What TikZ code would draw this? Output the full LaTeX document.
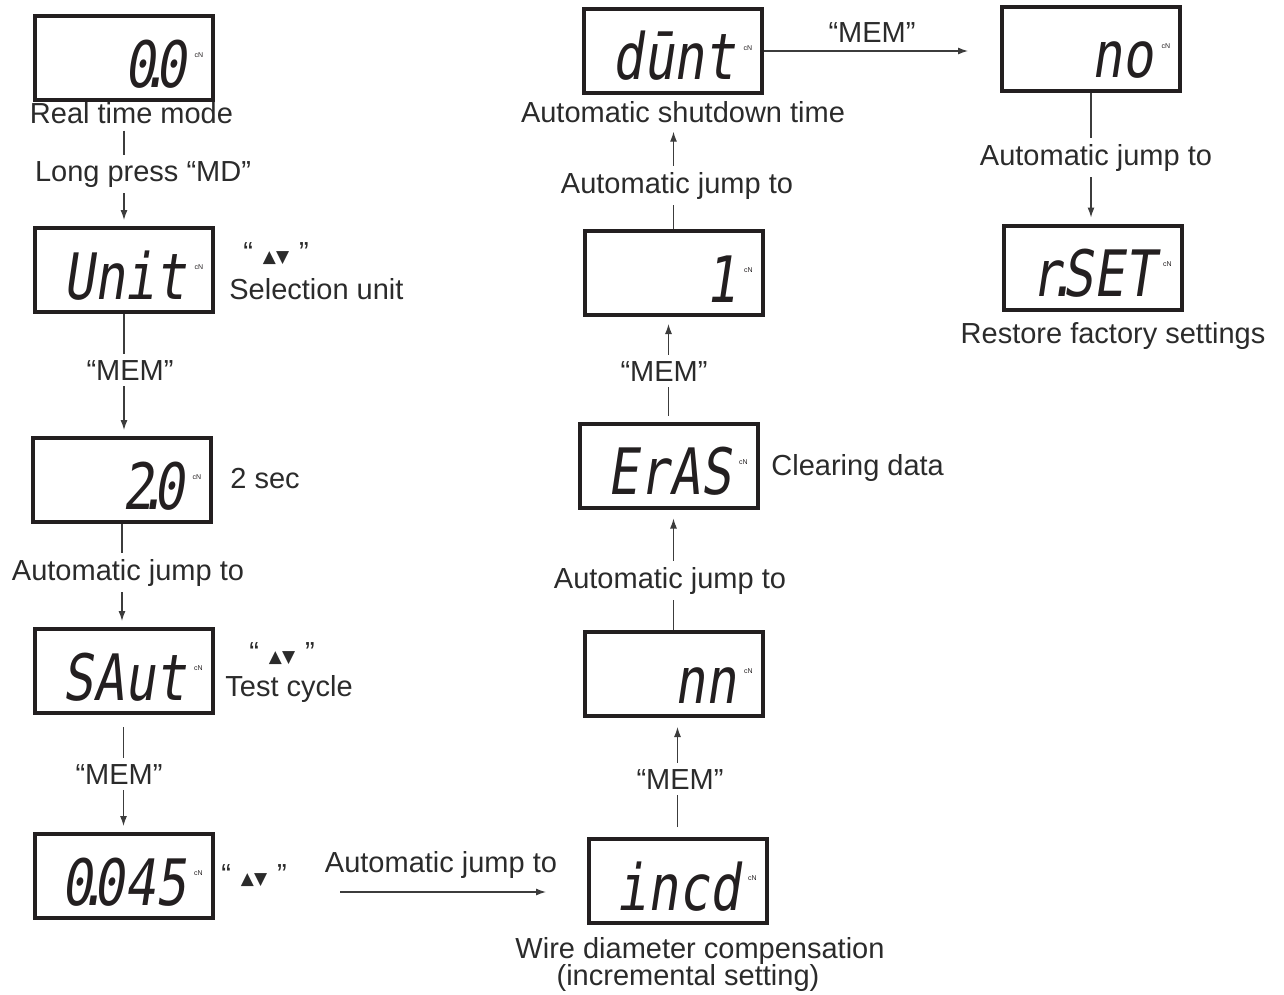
\documentclass[tikz,border=0pt]{standalone}
\usepackage{fontspec}
\setmainfont{Liberation Sans}
\newfontfamily\segfont{DejaVu Sans Mono}[FakeSlant=0.15,FakeStretch=0.8]
\newfontfamily\trifont{DejaVu Sans}
\usetikzlibrary{arrows.meta}

\definecolor{ink}{HTML}{231F20}
\definecolor{txt}{HTML}{2B2B2B}
\definecolor{wire}{HTML}{3C3C3C}

% one display: frame, readout and the small unit mark
\newcommand{\lcdpanel}[3]{%
  \node[panel] (#1) at (#2) {};
  \node[seg, anchor=base east] (#1-r) at ([xshift=-14pt, yshift=-14.5pt]#1.east) {#3};
  \node[cn] (#1-u) at ([xshift=-8pt, yshift=1.5pt]#1.east) {cN};
}
\newcommand{\segdot}{\kern-7.5pt.\kern-7.5pt}
\newcommand{\updown}{“\hspace{5pt}{\trifont\fontsize{8.5}{10}\selectfont ▲▼}\hspace{5pt}”}

\begin{document}
\begin{tikzpicture}[x=0.5pt, y=-0.5pt]

\tikzstyle{panel}=[draw=ink, line width=2pt, minimum width=89pt, minimum height=42pt, inner sep=0pt];
\tikzstyle{seg}=[font=\segfont\fontsize{32}{35}\selectfont, text=ink, inner sep=0pt];
\tikzstyle{cn}=[font=\fontsize{3.5}{4}\selectfont, text=ink, inner sep=0pt];
\tikzstyle{lbl}=[font=\fontsize{14.5}{17}\selectfont, text=txt, inner sep=3pt];
\tikzstyle{ln}=[draw=wire, line width=0.6pt];
\tikzstyle{arr}=[ln, -{Latex[length=5pt, width=3.5pt]}, shorten >=3pt];

\useasboundingbox (0,0) rectangle (1284,995);

% left column
\lcdpanel{zero}{124,58.5}{0\segdot0}
\node[lbl, anchor=base] (zero-l) at (131.5,124) {Real time mode};

\lcdpanel{unit}{124,270}{Unit}
\node[lbl, anchor=base] (md) at (143,181) {Long press “MD”};
\node[lbl, anchor=base] (unit-k) at (276,262) {\updown};
\node[lbl, anchor=base west] (unit-l) at (223,299) {Selection unit};

\draw[ln] (zero-l.south -| zero.south) -- (md.north -| zero.south);
\draw[arr] (md.south -| zero.south) -- (unit.north);

\lcdpanel{two}{122,480}{2\segdot0}
\node[lbl, anchor=base west] (two-l) at (224,488) {2 sec};
\node[lbl, anchor=base] (mem1) at (130,380) {“MEM”};

\draw[ln] (unit.south) -- (mem1.north -| unit.south);
\draw[arr] (mem1.south -| unit.south) -- (unit.south |- two.north);

\lcdpanel{saut}{123.5,671}{SAut}
\node[lbl, anchor=base] (saut-k) at (282,662) {\updown};
\node[lbl, anchor=base west] (saut-l) at (219,696) {Test cycle};
\node[lbl, anchor=base] (aj1) at (128,580) {Automatic jump to};

\draw[ln] (two.south) -- (aj1.north -| two.south);
\draw[arr] (aj1.south -| two.south) -- (two.south |- saut.north);

\lcdpanel{small}{123.5,876}{0\segdot045}
\node[lbl, anchor=base] (small-k) at (254,884) {\updown};
\node[lbl, anchor=base] (mem2) at (119,784) {“MEM”};

\draw[ln, shorten <=6pt] (saut.south) -- (mem2.north -| saut.south);
\draw[arr] (mem2.south -| saut.south) -- (saut.south |- small.north);

% bottom jump over to the middle column
\node[lbl, anchor=base] (aj2) at (441,872) {Automatic jump to};
\coordinate (h0) at (340,892);
\coordinate (h1) at (546,892);
\draw[arr, shorten >=0pt] (h0) -- (h1);

% middle column, going up
\lcdpanel{incd}{677.5,881}{incd}
\node[lbl, anchor=base] (wd1) at (700,958) {Wire diameter compensation};
\node[lbl, anchor=base] (wd2) at (688,985) {(incremental setting)};

\lcdpanel{nn}{673.5,674}{nn}
\node[lbl, anchor=base] (mem3) at (680,789) {“MEM”};

\draw[ln, shorten <=5pt] (incd.north) -- (mem3.south -| incd.north);
\draw[arr, shorten >=4.5pt] (mem3.north -| incd.north) -- (incd.north |- nn.south);

\lcdpanel{eras}{668.5,465.5}{ErAS}
\node[lbl, anchor=base west] (eras-l) at (765,475) {Clearing data};
\node[lbl, anchor=base] (aj3) at (670,588) {Automatic jump to};

\draw[ln] (nn.north) -- (aj3.south -| nn.north);
\draw[arr, shorten >=4.5pt] (aj3.north -| nn.north) -- (nn.north |- eras.south);

\lcdpanel{one}{673.5,273}{1}
\node[lbl, anchor=base] (mem4) at (664,381) {“MEM”};

\draw[ln, shorten <=3pt] (eras.north) -- (mem4.south -| eras.north);
\draw[arr, shorten >=3.5pt] (mem4.north -| eras.north) -- (eras.north |- one.south);

\lcdpanel{dunt}{673,51}{dūnt}
\node[lbl, anchor=base] (shut) at (683,123) {Automatic shutdown time};
\node[lbl, anchor=base] (aj4) at (677,193) {Automatic jump to};

\draw[ln] (one.north) -- (aj4.south -| one.north);
\draw[arr, shorten >=1pt] (aj4.north -| one.north) -- (one.north |- shut.south);

% right column
\lcdpanel{no}{1091,49}{no}
\node[lbl, anchor=base] (mem5) at (872,43) {“MEM”};
\draw[arr, shorten >=16pt] (dunt.east) -- (dunt.east -| no.west);

\lcdpanel{rset}{1092.5,267.5}{r\segdot SET}
\node[lbl, anchor=base] (aj5) at (1096,165) {Automatic jump to};
\node[lbl, anchor=base] (rfs) at (1113,343) {Restore factory settings};

\draw[ln] (no.south) -- (aj5.north -| no.south);
\draw[arr] (aj5.south -| no.south) -- (no.south |- rset.north);

\end{tikzpicture}
\end{document}
